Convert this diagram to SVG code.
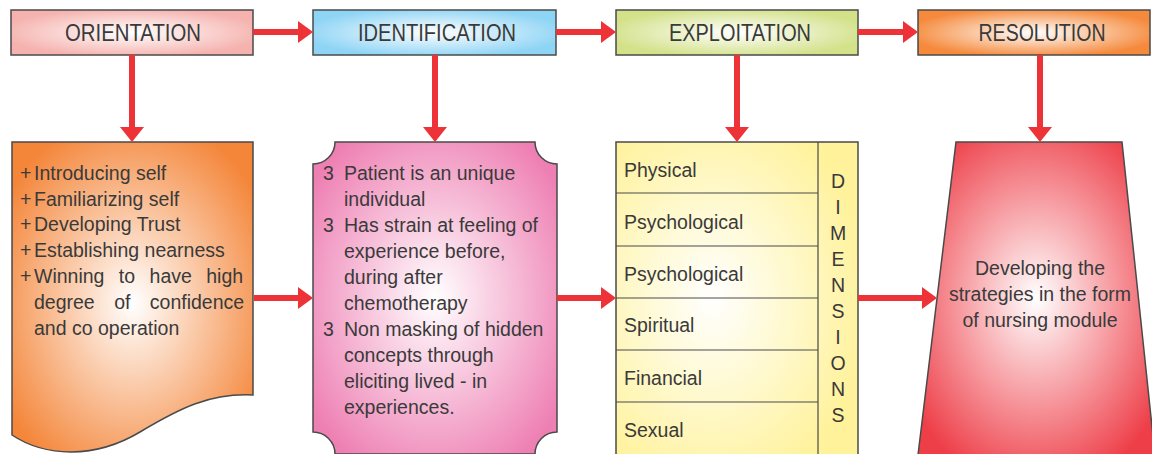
<svg xmlns="http://www.w3.org/2000/svg" width="1152" height="454" viewBox="0 0 1152 454">
<defs>
<radialGradient id="gOri" cx="0.5" cy="0.5" r="0.55"><stop offset="0" stop-color="#ffffff"/><stop offset="1" stop-color="#f5b2ae"/></radialGradient>
<radialGradient id="gIde" cx="0.5" cy="0.5" r="0.55"><stop offset="0" stop-color="#ffffff"/><stop offset="1" stop-color="#8ed4f5"/></radialGradient>
<radialGradient id="gExp" cx="0.5" cy="0.5" r="0.55"><stop offset="0" stop-color="#ffffff"/><stop offset="1" stop-color="#d3e189"/></radialGradient>
<radialGradient id="gRes" cx="0.5" cy="0.5" r="0.55"><stop offset="0" stop-color="#ffffff"/><stop offset="1" stop-color="#f58a3c"/></radialGradient>
<radialGradient id="gDoc" cx="0.5" cy="0.52" r="0.62"><stop offset="0" stop-color="#ffffff"/><stop offset="1" stop-color="#f4863a"/></radialGradient>
<radialGradient id="gPink" cx="0.5" cy="0.5" r="0.62"><stop offset="0" stop-color="#ffffff"/><stop offset="1" stop-color="#ee7fb3"/></radialGradient>
<radialGradient id="gTab" cx="0.4" cy="0.5" r="0.65"><stop offset="0" stop-color="#ffffff"/><stop offset="1" stop-color="#fff29a"/></radialGradient>
<radialGradient id="gTrap" cx="0.5" cy="0.5" r="0.62"><stop offset="0" stop-color="#ffffff"/><stop offset="1" stop-color="#ee3f49"/></radialGradient>
</defs>
<style>
.box{stroke:#4a4a4a;stroke-width:1.5}
.hd{font-family:"Liberation Sans",Arial,sans-serif;font-size:23px;fill:#3a3a3a;text-anchor:middle}
.tx{font-family:"Liberation Sans",Arial,sans-serif;font-size:19.5px;fill:#3a3a3a}
.ctr{text-anchor:middle}
.ln{stroke:#4a4a4a;stroke-width:1.2;fill:none}
.shaft{stroke:#ee3338;stroke-width:6;fill:none}
.head{fill:#ee3338}
</style>

<g id="orientation">
<rect class="box" x="11" y="10" width="242" height="45" fill="url(#gOri)"/>
<text class="hd" x="133" y="41" textLength="136" lengthAdjust="spacingAndGlyphs">ORIENTATION</text>
</g>
<g id="identification">
<rect class="box" x="313" y="10" width="243" height="45" fill="url(#gIde)"/>
<text class="hd" x="437" y="41" textLength="158" lengthAdjust="spacingAndGlyphs">IDENTIFICATION</text>
</g>
<g id="exploitation">
<rect class="box" x="616" y="10" width="242" height="45" fill="url(#gExp)"/>
<text class="hd" x="740" y="41" textLength="142" lengthAdjust="spacingAndGlyphs">EXPLOITATION</text>
</g>
<g id="resolution">
<rect class="box" x="918" y="10" width="232" height="45" fill="url(#gRes)"/>
<text class="hd" x="1042" y="41" textLength="127" lengthAdjust="spacingAndGlyphs">RESOLUTION</text>
</g>

<g id="orientation-steps">
<path class="box" d="M12,142 H253 V395 C210,393 180,408 140,432 C95,459 45,457 12,435 Z" fill="url(#gDoc)"/>
<text class="tx" x="20" y="180">+</text><text class="tx" x="34" y="180">Introducing self</text>
<text class="tx" x="20" y="206">+</text><text class="tx" x="34" y="206">Familiarizing self</text>
<text class="tx" x="20" y="231">+</text><text class="tx" x="34" y="231">Developing Trust</text>
<text class="tx" x="20" y="257">+</text><text class="tx" x="34" y="257">Establishing nearness</text>
<text class="tx" x="20" y="283">+</text><text class="tx" x="34" y="283" word-spacing="9">Winning to have high</text>
<text class="tx" x="34" y="309" word-spacing="14">degree of confidence</text>
<text class="tx" x="34" y="335">and co operation</text>
</g>

<g id="identification-points">
<path class="box" d="M335,142 H535 A22,22 0 0 0 557,164 V432 A22,22 0 0 0 535,454 H335 A22,22 0 0 0 313,432 V164 A22,22 0 0 0 335,142 Z" fill="url(#gPink)"/>
<text class="tx" x="323" y="180">3</text><text class="tx" x="344" y="180">Patient is an unique</text>
<text class="tx" x="344" y="206">individual</text>
<text class="tx" x="323" y="232">3</text><text class="tx" x="344" y="232">Has strain at feeling of</text>
<text class="tx" x="344" y="258">experience before,</text>
<text class="tx" x="344" y="284">during after</text>
<text class="tx" x="344" y="310">chemotherapy</text>
<text class="tx" x="323" y="336">3</text><text class="tx" x="344" y="336">Non masking of hidden</text>
<text class="tx" x="344" y="362">concepts through</text>
<text class="tx" x="344" y="388">eliciting lived - in</text>
<text class="tx" x="344" y="414">experiences.</text>
</g>

<g id="dimensions">
<rect class="box" x="616" y="142" width="242" height="313" fill="url(#gTab)"/>
<path class="ln" d="M818,142 V455 M616,193 H818 M616,246 H818 M616,298 H818 M616,350 H818 M616,402 H818"/>
<text class="tx" x="624" y="177">Physical</text>
<text class="tx" x="624" y="229">Psychological</text>
<text class="tx" x="624" y="281">Psychological</text>
<text class="tx" x="624" y="332">Spiritual</text>
<text class="tx" x="624" y="385">Financial</text>
<text class="tx" x="624" y="437">Sexual</text>
<text class="tx ctr" x="838" y="188">D</text>
<text class="tx ctr" x="838" y="214">I</text>
<text class="tx ctr" x="838" y="240">M</text>
<text class="tx ctr" x="838" y="266">E</text>
<text class="tx ctr" x="838" y="292">N</text>
<text class="tx ctr" x="838" y="318">S</text>
<text class="tx ctr" x="838" y="344">I</text>
<text class="tx ctr" x="838" y="370">O</text>
<text class="tx ctr" x="838" y="396">N</text>
<text class="tx ctr" x="838" y="422">S</text>
</g>

<g id="resolution-strategy">
<polygon class="box" points="956,142 1122,142 1155,455 918,455" fill="url(#gTrap)"/>
<text class="tx ctr" x="1040" y="275">Developing the</text>
<text class="tx ctr" x="1040" y="301">strategies in the form</text>
<text class="tx ctr" x="1040" y="327">of nursing module</text>
</g>

<g id="connectors">
<path class="shaft" d="M253,32 H300 M556,32 H603 M858,32 H905"/>
<polygon class="head" points="298,21 313,32 298,43"/>
<polygon class="head" points="601,21 616,32 601,43"/>
<polygon class="head" points="903,21 918,32 903,43"/>
<path class="shaft" d="M132,55 V129 M435,55 V129 M737,55 V129 M1040,55 V129"/>
<polygon class="head" points="120,127 144,127 132,142"/>
<polygon class="head" points="423,127 447,127 435,142"/>
<polygon class="head" points="725,127 749,127 737,142"/>
<polygon class="head" points="1028,127 1052,127 1040,142"/>
<path class="shaft" d="M254,298 H300 M557,298 H603 M858,298 H924"/>
<polygon class="head" points="298,287 313,298 298,309"/>
<polygon class="head" points="601,287 616,298 601,309"/>
<polygon class="head" points="922,287 937,298 922,309"/>
</g>
</svg>
